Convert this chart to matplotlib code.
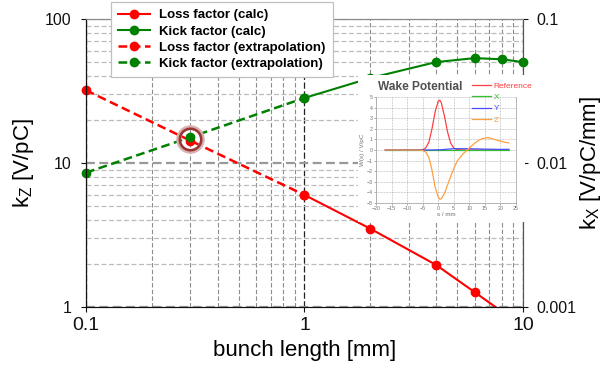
import matplotlib
matplotlib.use("Agg")
import matplotlib.pyplot as plt
from matplotlib.ticker import LogLocator, NullFormatter, FixedLocator, MultipleLocator
from matplotlib.patches import Rectangle

plt.rcParams['font.family'] = ['Liberation Sans', 'DejaVu Sans']
plt.rcParams['mathtext.fontset'] = 'custom'
plt.rcParams['mathtext.rm'] = 'Liberation Sans'

# ---------------- data ----------------
bunch_calc = [1, 2, 4, 6, 8, 10]
loss_calc = [6.0, 3.5, 1.96, 1.27, 0.93, 0.72]          # V/pC
kick_calc = [0.0283, 0.0389, 0.0502, 0.0535, 0.0525, 0.0502]  # V/pC/mm

bunch_extra = [0.1, 0.3, 1]
loss_extra = [32.0, 14.3, 6.0]
kick_extra = [0.00857, 0.0151, 0.0283]

highlight_bunch = 0.3

x_ticks = [0.1, 1, 10]
x_ticklabels = ["0.1", "1", "10"]
left_ticks = [1, 10, 100]
left_ticklabels = ["1", "10", "100"]
right_ticks = [0.001, 0.01, 0.1]
right_ticklabels = ["0.001", "0.01", "0.1"]

# inset wake potential
wake_s = [-17, -6, -5, -4, -3, -2, -1, 0, 0.5, 1, 2, 3, 4, 5, 6, 7, 8, 9, 10,
          11, 12, 13, 14, 15, 16, 17, 18, 19, 20, 21, 22, 22.7]
wake_ref = [0, 0.01, 0.03, 0.2, 0.75, 2.0, 3.6, 4.6, 4.7, 4.45, 3.2, 1.7, 0.65,
            0.18, 0.05, 0.02, 0, 0, 0, 0, 0, 0, 0, 0, 0, 0, 0, 0, 0, 0, 0, 0]
wake_x = [0] * 32
wake_y = [0, 0, 0, 0, 0, 0, 0.01, 0.02, 0.02, 0.03, 0.05, 0.08, 0.1, 0.12, 0.12,
          0.12, 0.12, 0.12, 0.12, 0.11, 0.1, 0.1, 0.09, 0.08, 0.08, 0.07, 0.07,
          0.06, 0.06, 0.06, 0.06, 0.06]
wake_z = [0, -0.01, -0.05, -0.2, -0.7, -1.9, -3.5, -4.45, -4.65, -4.6, -4.1, -3.3,
          -2.5, -1.75, -1.1, -0.7, -0.35, -0.1, 0.2, 0.45, 0.7, 0.9, 1.05, 1.13,
          1.15, 1.1, 1.0, 0.92, 0.83, 0.76, 0.7, 0.67]

RED = '#FF0000'
GREEN = '#008000'

W, H = 602, 374
fig = plt.figure(figsize=(W / 100, H / 100), dpi=100)

def fx(px):
    return px / W

def fy(py):
    return 1 - py / H

ax = fig.add_axes([fx(86), fy(307), fx(523) - fx(86), fy(19) - fy(307)])
ax2 = ax.twinx()

ax.set_xscale('log')
ax.set_yscale('log')
ax2.set_yscale('log')
ax.set_xlim(0.1, 10)
ax.set_ylim(1, 100)
ax2.set_ylim(0.001, 0.1)

# grid
ax.xaxis.set_minor_locator(LogLocator(base=10, subs=range(2, 10)))
ax.yaxis.set_minor_locator(LogLocator(base=10, subs=range(2, 10)))
ax.xaxis.set_minor_formatter(NullFormatter())
ax.yaxis.set_minor_formatter(NullFormatter())
ax.xaxis.grid(True, which='major', color='#222222', lw=0.9, linestyle=(0, (5, 2)))
ax.xaxis.grid(True, which='minor', color='#8c8c8c', lw=0.8, linestyle=(0, (4, 2)))
ax.yaxis.grid(True, which='major', color='#999999', lw=1.6, linestyle=(0, (4, 2)))
ax.yaxis.grid(True, which='minor', color='#bcbcbc', lw=0.9, linestyle=(0, (4, 2)))
ax.set_axisbelow(True)

ax.set_xticks(x_ticks)
ax.set_xticklabels(x_ticklabels)
ax.set_yticks(left_ticks)
ax.set_yticklabels(left_ticklabels)
ax2.set_yticks(right_ticks)
ax2.set_yticklabels(right_ticklabels)
ax2.yaxis.set_minor_locator(FixedLocator([]))

ax.tick_params(which='minor', length=0)
ax.tick_params(axis='x', which='major', length=3.5, width=0.8, labelsize=14, pad=4, colors='#111111')
ax.tick_params(axis='y', which='major', length=3.5, width=0.8, labelsize=11.5, pad=7, colors='#111111')
ax2.tick_params(axis='y', which='major', length=3.5, width=0.8, labelsize=11.5, pad=6, colors='#111111')

for a in (ax, ax2):
    a.spines['top'].set_color('#8a8a8a')
    a.spines['right'].set_color('#555555')
    a.spines['left'].set_color('#111111')
    a.spines['bottom'].set_color('#111111')

ax.set_xlabel('bunch length [mm]', fontsize=16, labelpad=4)
ax.set_ylabel(r'k$_\mathregular{Z}$ [V/pC]', fontsize=16, labelpad=6)
ax2.set_ylabel(r'k$_\mathregular{X}$ [V/pC/mm]', fontsize=16, labelpad=1)

# data
ln1, = ax.plot(bunch_calc, loss_calc, color=RED, lw=1.5, marker='o', ms=6, clip_on=True,
               label='Loss factor (calc)')
ln3, = ax.plot(bunch_extra, loss_extra, color=RED, lw=1.8, linestyle=(0, (3.5, 1.8)),
               marker='o', ms=6, clip_on=False, label='Loss factor (extrapolation)')
ln2, = ax2.plot(bunch_calc, kick_calc, color=GREEN, lw=1.5, marker='o', ms=6, clip_on=False,
                label='Kick factor (calc)')
ln4, = ax2.plot(bunch_extra, kick_extra, color=GREEN, lw=1.8, linestyle=(0, (3.5, 1.8)),
                marker='o', ms=6, clip_on=False, label='Kick factor (extrapolation)')

# highlight circle around the 0.3 mm point
i_h = bunch_extra.index(highlight_bunch)
h_y = (loss_extra[i_h] * kick_extra[i_h] * 1000) ** 0.5
ax2.plot([highlight_bunch], [h_y / 1000], marker='o', ms=17, mfc='none', mec='#d9b0b0',
         mew=3.5, zorder=5)
ax2.plot([highlight_bunch], [h_y / 1000], marker='o', ms=15.5, mfc='none', mec='#9a3535',
         mew=1.8, zorder=6)

# legend
leg = fig.legend(handles=[ln1, ln2, ln3, ln4], loc='upper left',
                 bbox_to_anchor=(fx(111), fy(2)), bbox_transform=fig.transFigure,
                 prop={'weight': 'bold', 'size': 9.5}, handlelength=2.4,
                 handletextpad=0.7, labelspacing=0.3, borderpad=0.55,
                 fancybox=False, framealpha=1, edgecolor='#c0c0c0', borderaxespad=0)
leg.get_frame().set_linewidth(0.9)

# ---------------- inset ----------------
bg = Rectangle((fx(358), fy(222)), fx(525) - fx(358), fy(75) - fy(222),
               transform=fig.transFigure, facecolor='white', edgecolor='none', zorder=2)
fig.add_artist(bg)

axi = fig.add_axes([fx(376), fy(203), fx(516) - fx(376), fy(97) - fy(203)], zorder=3)
axi.plot(wake_s, wake_ref, color='#ff4040', lw=0.9, label='Reference')
axi.plot(wake_s, wake_x, color='#30c030', lw=0.9, label='X')
axi.plot(wake_s, wake_y, color='#4a4aff', lw=0.9, label='Y')
axi.plot(wake_s, wake_z, color='#ffa040', lw=0.9, label='Z')
axi.set_xlim(-20, 25)
axi.set_ylim(-5, 5)
axi.xaxis.set_major_locator(MultipleLocator(5))
axi.yaxis.set_major_locator(MultipleLocator(1))
axi.grid(True, color='#a0a0a0', lw=0.5, linestyle=(0, (1, 1.2)))
axi.set_axisbelow(True)
axi.tick_params(labelsize=3.8, length=1.2, width=0.4, pad=1, colors='#707070')
for s in axi.spines.values():
    s.set_color('#a8a8a8')
    s.set_linewidth(0.6)
axi.spines['top'].set_visible(False)
axi.set_xlabel('s / mm', fontsize=4.5, color='#707070', labelpad=0.5)
axi.set_ylabel('W(s) / V/pC', fontsize=4.5, color='#707070', labelpad=1)

fig.text(fx(378), fy(87), 'Wake Potential', fontsize=8.6, fontweight='bold',
         color='#505050', ha='left', va='center', zorder=4)
ileg = axi.legend(loc='upper left', bbox_to_anchor=(fx(472), fy(82)),
                  bbox_transform=fig.transFigure, frameon=False, fontsize=6,
                  handlelength=2.3, handletextpad=0.3, labelspacing=0.42,
                  borderpad=0, borderaxespad=0, labelcolor='linecolor')

fig.savefig('out.png', dpi=100)
